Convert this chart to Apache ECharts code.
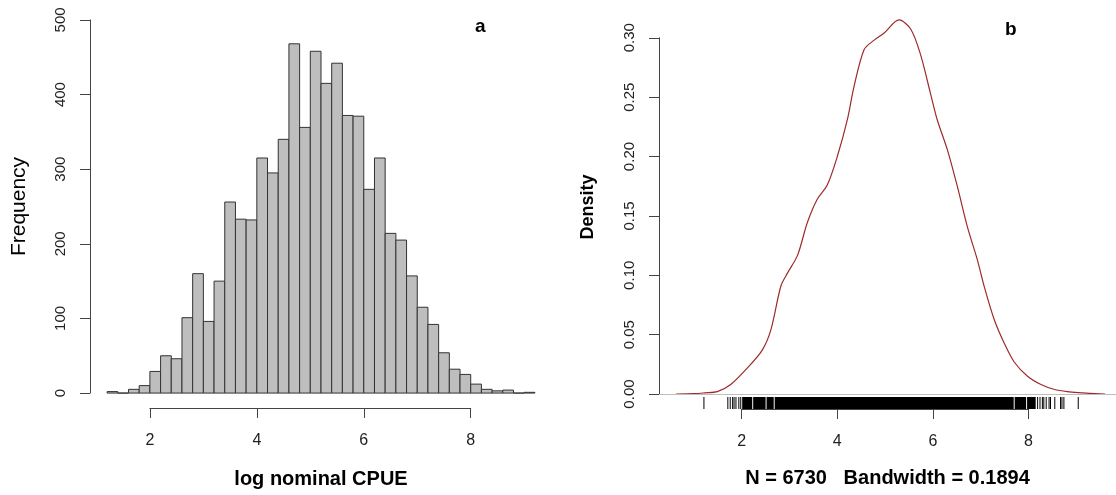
<!DOCTYPE html>
<html>
<head>
<meta charset="utf-8">
<script src="https://cdn.jsdelivr.net/npm/echarts@6/dist/echarts.min.js"></script>
<style>
  html, body { margin: 0; padding: 0; background: #fff; }
  #chart { width: 1116px; height: 495px; }
</style>
</head>
<body>
<div id="chart"></div>
<script>
// panel a: histogram, left edge of each 0.2 bin and its count
const binWidth = 0.2;
const binLeft = [1.2, 1.4, 1.6, 1.8, 2.0, 2.2, 2.4, 2.6, 2.8, 3.0,
  3.2, 3.4, 3.6, 3.8, 4.0, 4.2, 4.4, 4.6, 4.8, 5.0,
  5.2, 5.4, 5.6, 5.8, 6.0, 6.2, 6.4, 6.6, 6.8, 7.0,
  7.2, 7.4, 7.6, 7.8, 8.0, 8.2, 8.4, 8.6, 8.8, 9.0];
const binCounts = [2, 0, 5, 10, 29, 50, 46, 101, 160, 96,
  150, 256, 233, 232, 315, 295, 340, 468, 356, 458,
  415, 442, 372, 371, 273, 315, 214, 205, 157, 115,
  92, 54, 32, 25, 12, 5, 3, 4, 0, 1];
const histTicksX = [2, 4, 6, 8];
const histTicksY = [0, 100, 200, 300, 400, 500];

// panel b: kernel density estimate
const densX = [0.63, 1.0, 1.23, 1.49, 1.77, 2.12, 2.43, 2.61, 2.82, 2.96,
  3.17, 3.37, 3.58, 3.79, 4.0, 4.21, 4.35, 4.56, 4.77, 4.98,
  5.29, 5.54, 5.74, 5.95, 6.09, 6.3, 6.51, 6.72, 6.93, 7.07,
  7.28, 7.49, 7.7, 7.98, 8.26, 8.53, 8.81, 9.13, 9.4, 9.6];
const densY = [0, 0.0003, 0.001, 0.002, 0.008, 0.022, 0.037, 0.054, 0.091, 0.102,
  0.117, 0.144, 0.164, 0.176, 0.2, 0.231, 0.259, 0.29, 0.298, 0.304,
  0.315, 0.307, 0.286, 0.253, 0.231, 0.206, 0.175, 0.141, 0.113, 0.091,
  0.063, 0.043, 0.027, 0.015, 0.008, 0.004, 0.002, 0.001, 0.0003, 0];
const densTicksX = [2, 4, 6, 8];
const densTicksY = [0, 0.05, 0.1, 0.15, 0.2, 0.25, 0.3];
// rug: isolated observations and the runs where ticks merge into a solid bar
const rugSingles = [1.21, 1.71, 1.76, 1.81, 1.84, 1.88, 1.94, 1.98,
  8.19, 8.24, 8.29, 8.32, 8.37, 8.43, 8.46, 8.55, 8.67, 8.70, 8.74, 9.04];
const rugRuns = [[2.01, 2.22], [2.24, 2.50], [2.52, 2.67], [2.69, 7.69], [7.71, 7.95], [7.97, 8.15]];

const font = '"Liberation Sans", Arial, sans-serif';
const ink = "#222";
const axisInk = "#444";

// plot regions (pixels) and their data ranges
const histBox = { left: 90, top: 5, width: 462, height: 403 };
const histRangeX = [0.88, 9.52];
const histRangeY = [-20, 520];
const densBox = { left: 659, top: 5, width: 457, height: 404 };
const densRangeX = [0.27, 9.83];
const densRangeY = [-0.0126, 0.3276];

function toPx(box, rx, ry) {
  return {
    x: (v) => box.left + ((v - rx[0]) / (rx[1] - rx[0])) * box.width,
    y: (v) => box.top + box.height - ((v - ry[0]) / (ry[1] - ry[0])) * box.height,
  };
}

function axisGrids(box, rx, ry, ticksX, ticksY) {
  const p = toPx(box, rx, ry);
  const x0 = p.x(ticksX[0]);
  const x1 = p.x(ticksX[ticksX.length - 1]);
  const yTop = p.y(ticksY[ticksY.length - 1]);
  const yBot = p.y(ticksY[0]);
  return [
    { left: x0, width: x1 - x0, top: box.top + box.height - 10, height: 10 },
    { left: box.left, width: 10, top: yTop, height: yBot - yTop },
  ];
}

function mainGrid(box) {
  return { left: box.left, top: box.top, width: box.width, height: box.height };
}

const hidden = (gridIndex) => ({ gridIndex, type: "value", show: false });

function tickAxisX(gridIndex, ticks) {
  return {
    gridIndex,
    type: "value",
    position: "bottom",
    min: ticks[0],
    max: ticks[ticks.length - 1],
    interval: ticks[1] - ticks[0],
    axisLine: { show: true, lineStyle: { color: axisInk, width: 1 } },
    axisTick: { show: true, inside: false, length: 10, lineStyle: { color: axisInk, width: 1 } },
    axisLabel: { show: true, margin: 25, color: ink, fontSize: 16, fontFamily: font },
    splitLine: { show: false },
  };
}

function tickAxisY(gridIndex, ticks, digits) {
  return {
    gridIndex,
    type: "value",
    position: "left",
    min: ticks[0],
    max: ticks[ticks.length - 1],
    interval: ticks[1] - ticks[0],
    axisLine: { show: true, lineStyle: { color: axisInk, width: 1 } },
    axisTick: { show: true, inside: false, length: 10, lineStyle: { color: axisInk, width: 1 } },
    axisLabel: {
      show: true, rotate: 90, margin: 22, color: ink, fontSize: 15, fontFamily: font,
      formatter: (v) => v.toFixed(digits),
    },
    splitLine: { show: false },
  };
}

function nameAxis(gridIndex, range, name, gap, size, weight) {
  return {
    gridIndex,
    type: "value",
    min: range[0],
    max: range[1],
    axisLine: { show: false },
    axisTick: { show: false },
    axisLabel: { show: false },
    splitLine: { show: false },
    name,
    nameLocation: "middle",
    nameGap: gap,
    nameTextStyle: { color: "#000", fontSize: size, fontWeight: weight, fontFamily: font },
  };
}

const histAxes = axisGrids(histBox, histRangeX, histRangeY, histTicksX, histTicksY);
const densAxes = axisGrids(densBox, densRangeX, densRangeY, densTicksX, densTicksY);

const option = {
  animation: false,
  backgroundColor: "#fff",
  grid: [mainGrid(histBox), histAxes[0], histAxes[1], mainGrid(densBox), densAxes[0], densAxes[1]],
  xAxis: [
    nameAxis(0, histRangeX, "log nominal CPUE", 61, 20, "bold"),
    tickAxisX(1, histTicksX),
    hidden(2),
    nameAxis(3, densRangeX, "N = 6730   Bandwidth = 0.1894", 59, 20, "bold"),
    tickAxisX(4, densTicksX),
    hidden(5),
  ],
  yAxis: [
    nameAxis(0, histRangeY, "Frequency", 60, 21, "normal"),
    hidden(1),
    tickAxisY(2, histTicksY, 0),
    nameAxis(3, densRangeY, "Density", 62, 18, "bold"),
    hidden(4),
    tickAxisY(5, densTicksY, 2),
  ],
  graphic: [
    { type: "text", left: 475, top: 17, style: { text: "a", fill: "#000", font: `bold 19px ${font}` } },
    { type: "text", left: 1005, top: 20, style: { text: "b", fill: "#000", font: `bold 19px ${font}` } },
  ],
  series: [
    {
      type: "custom",
      xAxisIndex: 0,
      yAxisIndex: 0,
      data: binLeft.map((x, i) => [x, binCounts[i]]),
      encode: { x: 0, y: 1 },
      renderItem: (params, api) => {
        const lo = api.coord([api.value(0), 0]);
        const hi = api.coord([api.value(0) + binWidth, api.value(1)]);
        return {
          type: "rect",
          shape: { x: lo[0], y: hi[1], width: hi[0] - lo[0], height: lo[1] - hi[1] },
          style: { fill: "#bebebe", stroke: "#333", lineWidth: 1 },
        };
      },
    },
    {
      type: "line",
      xAxisIndex: 3,
      yAxisIndex: 3,
      data: densX.map((x, i) => [x, densY[i]]),
      showSymbol: false,
      smooth: 0.3,
      lineStyle: { color: "#9e2a2b", width: 1.2 },
      markLine: {
        silent: true,
        symbol: "none",
        label: { show: false },
        lineStyle: { color: "#bebebe", type: "solid", width: 1 },
        data: [{ yAxis: 0 }],
      },
      z: 3,
    },
    {
      type: "custom",
      xAxisIndex: 3,
      yAxisIndex: 3,
      data: rugSingles.map((v) => [v, 0]),
      encode: { x: 0, y: 1 },
      renderItem: (params, api) => {
        const x = api.coord([api.value(0), 0])[0];
        const bottom = params.coordSys.y + params.coordSys.height;
        return {
          type: "line",
          shape: { x1: x, y1: bottom, x2: x, y2: bottom - 12 },
          style: { stroke: "#000", lineWidth: 1 },
        };
      },
    },
    {
      type: "custom",
      xAxisIndex: 3,
      yAxisIndex: 3,
      data: rugRuns.map((r) => [r[0], r[1]]),
      encode: { x: [0, 1] },
      renderItem: (params, api) => {
        const a = api.coord([api.value(0), 0])[0];
        const b = api.coord([api.value(1), 0])[0];
        const bottom = params.coordSys.y + params.coordSys.height;
        return {
          type: "rect",
          shape: { x: a, y: bottom - 12, width: b - a, height: 12 },
          style: { fill: "#000" },
        };
      },
    },
  ],
};

const chart = echarts.init(document.getElementById("chart"));
chart.setOption(option);
</script>
</body>
</html>
